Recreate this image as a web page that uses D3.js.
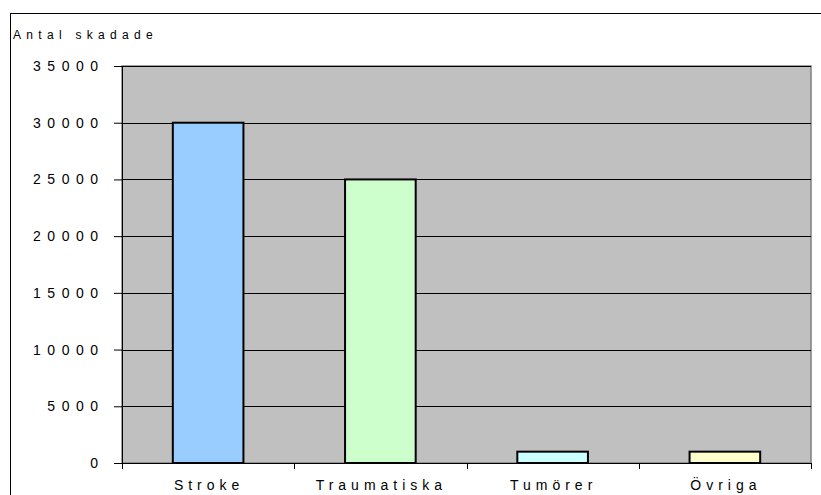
<!DOCTYPE html>
<html>
<head>
<meta charset="utf-8">
<script src="https://cdn.jsdelivr.net/npm/d3@7"></script>
<style>
body { margin: 0; background: #fff; }
text { font-family: "Liberation Sans", Arial, sans-serif; fill: #000; }
</style>
</head>
<body>
<script>
// data
var categories = ["Stroke", "Traumatiska", "Tumörer", "Övriga"];
var values = [30000, 25000, 1000, 1000];
var barColors = ["#99ccff", "#ccffcc", "#ccffff", "#ffffcc"];
var yTicks = [0, 5000, 10000, 15000, 20000, 25000, 30000, 35000];
var yTitle = "Antal skadade";

var W = 821, H = 495;
var plot = {left: 122, top: 66, right: 811, bottom: 463};

var svg = d3.select("body").append("svg")
    .attr("width", W).attr("height", H);

// outer frame
svg.append("rect")
    .attr("x", 10.5).attr("y", 13.5)
    .attr("width", 830).attr("height", 500)
    .attr("fill", "none").attr("stroke", "#000").attr("stroke-width", 1);

var x = d3.scaleBand()
    .domain(categories)
    .range([plot.left, plot.right])
    .paddingInner(0.59).paddingOuter(0.295);

var xb = d3.scaleBand().domain(categories).range([plot.left, plot.right]);

var y = d3.scaleLinear().domain([0, 35000]).range([plot.bottom, plot.top]);

// plot area
svg.append("rect")
    .attr("x", plot.left).attr("y", plot.top)
    .attr("width", plot.right - plot.left).attr("height", plot.bottom - plot.top)
    .attr("fill", "#c0c0c0").attr("stroke", "#808080").attr("stroke-width", 1.5);

// grid lines
svg.append("g").selectAll("line")
    .data(yTicks.slice(1))
    .enter().append("line")
    .attr("x1", plot.left).attr("x2", plot.right)
    .attr("y1", function(d) { return Math.round(y(d)) + 0.5; })
    .attr("y2", function(d) { return Math.round(y(d)) + 0.5; })
    .attr("stroke", "#000").attr("stroke-width", 1);

// bars
svg.append("g").selectAll("rect")
    .data(values)
    .enter().append("rect")
    .attr("x", function(d, i) { return x(categories[i]); })
    .attr("y", function(d) { return y(d); })
    .attr("width", x.bandwidth())
    .attr("height", function(d) { return plot.bottom - y(d); })
    .attr("fill", function(d, i) { return barColors[i]; })
    .attr("stroke", "#000").attr("stroke-width", 2);

// y axis
var yAxis = d3.axisLeft(y).tickValues(yTicks).tickSize(8).tickPadding(9.5)
    .tickFormat(function(d) { return d; });
var gy = svg.append("g").attr("transform", "translate(" + plot.left + ",0)").call(yAxis);
gy.select(".domain").remove();
gy.selectAll(".tick line").attr("stroke", "#000");
gy.selectAll("text").attr("font-size", 14).attr("letter-spacing", "6.5px")
    .style("font-family", "'Liberation Sans', Arial, sans-serif").attr("fill", "#000");
svg.append("line")
    .attr("x1", plot.left + 0.5).attr("x2", plot.left + 0.5)
    .attr("y1", plot.top).attr("y2", plot.bottom)
    .attr("stroke", "#000");

// x axis
var xAxis = d3.axisBottom(xb).tickSize(0).tickPadding(17);
var gx = svg.append("g").attr("transform", "translate(0," + plot.bottom + ")").call(xAxis);
gx.select(".domain").attr("stroke", "#000");
gx.selectAll("text").attr("font-size", 14).attr("letter-spacing", "5px")
    .attr("dx", "1px")
    .style("font-family", "'Liberation Sans', Arial, sans-serif").attr("fill", "#000");
// category boundary ticks
svg.append("g").selectAll("line")
    .data(categories.concat(["end"]))
    .enter().append("line")
    .attr("x1", function(d, i) { return Math.round(plot.left + i * xb.bandwidth()) + 0.5; })
    .attr("x2", function(d, i) { return Math.round(plot.left + i * xb.bandwidth()) + 0.5; })
    .attr("y1", plot.bottom).attr("y2", plot.bottom + 6)
    .attr("stroke", "#000");

// y title
svg.append("text")
    .attr("x", 13).attr("y", 39)
    .attr("font-size", 12).attr("letter-spacing", "5.3px")
    .text(yTitle);
</script>
</body>
</html>
